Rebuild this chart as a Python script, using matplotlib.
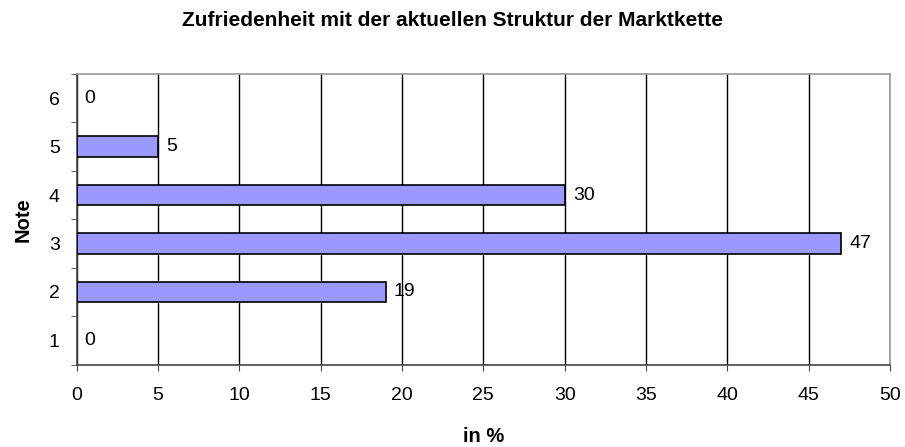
import matplotlib
matplotlib.use("Agg")
import matplotlib.pyplot as plt
import numpy as np

plt.rcParams['font.family'] = ['Liberation Sans', 'DejaVu Sans']

noten = [1, 2, 3, 4, 5, 6]
anteile = [0, 19, 47, 30, 5, 0]
x_ticks = [0, 5, 10, 15, 20, 25, 30, 35, 40, 45, 50]

fig = plt.figure(figsize=(9.05, 4.47), dpi=100)
ax = fig.add_axes([76.5/905, 1 - 364.5/447, (890 - 76.5)/905, (364.5 - 74)/447])

# zero bars get no edge, otherwise a stray line shows at x=0
lws = [1.2 if v > 0 else 0 for v in anteile]
ax.barh(noten, anteile, height=0.42, color='#9999FF', edgecolor='black',
        linewidth=lws, zorder=3)
for y, v in zip(noten, anteile):
    ax.text(v + 0.5, y, str(v), va='center', ha='left', fontsize=14)

ax.set_xlim(0, 50)
ax.set_ylim(0.5, 6.5)
ax.set_xticks(x_ticks)
ax.set_yticks(noten)
ax.set_yticks(np.arange(0.5, 7, 1), minor=True)
ax.tick_params(axis='y', which='major', length=0, labelsize=14, pad=12)
ax.tick_params(axis='y', which='minor', length=4.5, direction='out', color='#444444')
ax.tick_params(axis='x', length=4.5, direction='out', labelsize=14, pad=12, color='#444444')

ax.grid(axis='x', color='black', linewidth=1, zorder=0)
for s in ['left', 'bottom']:
    ax.spines[s].set_color('#444444')
    ax.spines[s].set_linewidth(1.2)
for s in ['top', 'right']:
    ax.spines[s].set_color('#999999')
    ax.spines[s].set_linewidth(1.2)

ax.set_xlabel('in %', fontsize=14.5, fontweight='bold', labelpad=16)
ax.set_ylabel('Note', fontsize=14.5, fontweight='bold', labelpad=12)
fig.suptitle('Zufriedenheit mit der aktuellen Struktur der Marktkette',
             fontsize=15, fontweight='bold', y=1 - 21/447, va='center')

fig.savefig('out.png', dpi=100)
